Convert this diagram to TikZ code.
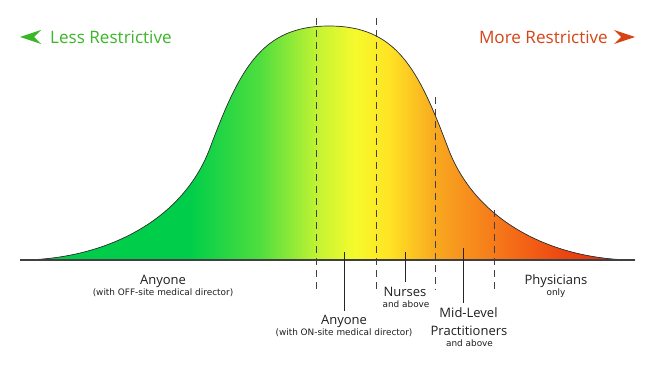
\documentclass[tikz,border=0pt]{standalone}
\usepackage{fontspec}
\setmainfont{Open Sans}
\newfontfamily\subfont{DejaVu Sans}
\definecolor{lessgreen}{RGB}{58,182,38}
\definecolor{morered}{RGB}{214,68,22}
\definecolor{txt}{RGB}{30,30,30}
\definecolor{g0}{RGB}{0,204,74}
\definecolor{g1}{RGB}{0,206,74}
\definecolor{g2}{RGB}{80,222,62}
\definecolor{g3}{RGB}{200,244,50}
\definecolor{g4}{RGB}{246,250,45}
\definecolor{g5}{RGB}{255,226,36}
\definecolor{g6}{RGB}{248,168,32}
\definecolor{g7}{RGB}{246,122,26}
\definecolor{g8}{RGB}{238,72,18}
\definecolor{g9}{RGB}{224,34,10}
\tikzset{
  curveline/.style={draw=black!80, line width=0.7pt},
  baseln/.style={draw=black!75, line width=1.6pt},
  divider/.style={draw=black!75, line width=0.9pt, dash pattern=on 7pt off 5pt},
  leader/.style={draw=black!85, line width=0.8pt},
  mainlbl/.style={text=txt, font=\fontsize{13}{15}\selectfont, inner sep=0pt, align=center},
  sublbl/.style={text=txt, font=\subfont\fontsize{8.9}{10}\selectfont, inner sep=0pt},
  headlbl/.style={font=\fontsize{17.1}{19}\selectfont, inner sep=0pt}
}
\def\bellpath{(20,260) .. controls (100,260) and (181.5,224) .. (210,148)
  .. controls (240,68) and (262,26) .. (329,26)
  .. controls (396,26) and (418,68) .. (448,148)
  .. controls (476.5,224) and (556,260) .. (635,260)}
\begin{document}
\begin{tikzpicture}[x=1pt,y=-1pt]
\useasboundingbox (0,0) rectangle (655,369);
\begin{scope}
  \clip \bellpath -- cycle;
  \fill[left color=g0,right color=g1] (18,0) rectangle (190.5,262);
  \fill[left color=g1,right color=g2] (190,0) rectangle (260.5,262);
  \fill[left color=g2,right color=g3] (260,0) rectangle (320.5,262);
  \fill[left color=g3,right color=g4] (320,0) rectangle (355.5,262);
  \fill[left color=g4,right color=g5] (355,0) rectangle (390.5,262);
  \fill[left color=g5,right color=g6] (390,0) rectangle (435.5,262);
  \fill[left color=g6,right color=g7] (435,0) rectangle (494.5,262);
  \fill[left color=g7,right color=g8] (494,0) rectangle (560.5,262);
  \fill[left color=g8,right color=g9] (560,0) rectangle (637,262);
\end{scope}
\draw[curveline] \bellpath;
\draw[baseln] (20,260) -- (635,260);

% dividers
\coordinate (d1t) at (316,18); \coordinate (d1b) at (316,290);
\coordinate (d2t) at (376,18); \coordinate (d2b) at (376,290);
\coordinate (d3t) at (435,97); \coordinate (d3b) at (435,290);
\coordinate (d4t) at (494,210); \coordinate (d4b) at (494,290);
\draw[divider] (d1t) -- (d1b);
\draw[divider] (d2t) -- (d2b);
\draw[divider] (d3t) -- (d3b);
\draw[divider] (d4t) -- (d4b);

% headers
\node[headlbl, text=lessgreen, anchor=west] (less) at (50,37) {Less Restrictive};
\node[headlbl, text=morered, anchor=east] (more) at (608,37) {More Restrictive};
\fill[lessgreen] (20,37) -- (41,30) -- (34,37) -- (41,44) -- cycle;
\fill[morered] (635,37) -- (614,30) -- (621,37) -- (614,44) -- cycle;

% labels
\node[mainlbl] (any1) at (163,281) {Anyone};
\node[sublbl] (any1s) at (163,293) {(with OFF-site medical director)};

\node[mainlbl] (any2) at (344,321) {Anyone};
\node[sublbl] (any2s) at (344,333) {(with ON-site medical director)};
\coordinate (l1) at (344,252);
\coordinate (l1e) at (344,311);
\draw[leader] (l1) -- (l1e);

\node[mainlbl] (nurse) at (405,292) {Nurses};
\node[sublbl] (nurses) at (406,304) {and above};
\coordinate (l2) at (405,252);
\coordinate (l2e) at (405,282);
\draw[leader] (l2) -- (l2e);

\node[mainlbl] (mid) at (468.5,313) {Mid-Level};
\node[mainlbl] (prac) at (469,331) {Practitioners};
\node[sublbl] (mids) at (469.5,343) {and above};
\coordinate (l3) at (463,248);
\coordinate (l3e) at (463,303);
\draw[leader] (l3) -- (l3e);

\node[mainlbl] (phys) at (556,281) {Physicians};
\node[sublbl] (physs) at (556,293) {only};
\end{tikzpicture}
\end{document}
